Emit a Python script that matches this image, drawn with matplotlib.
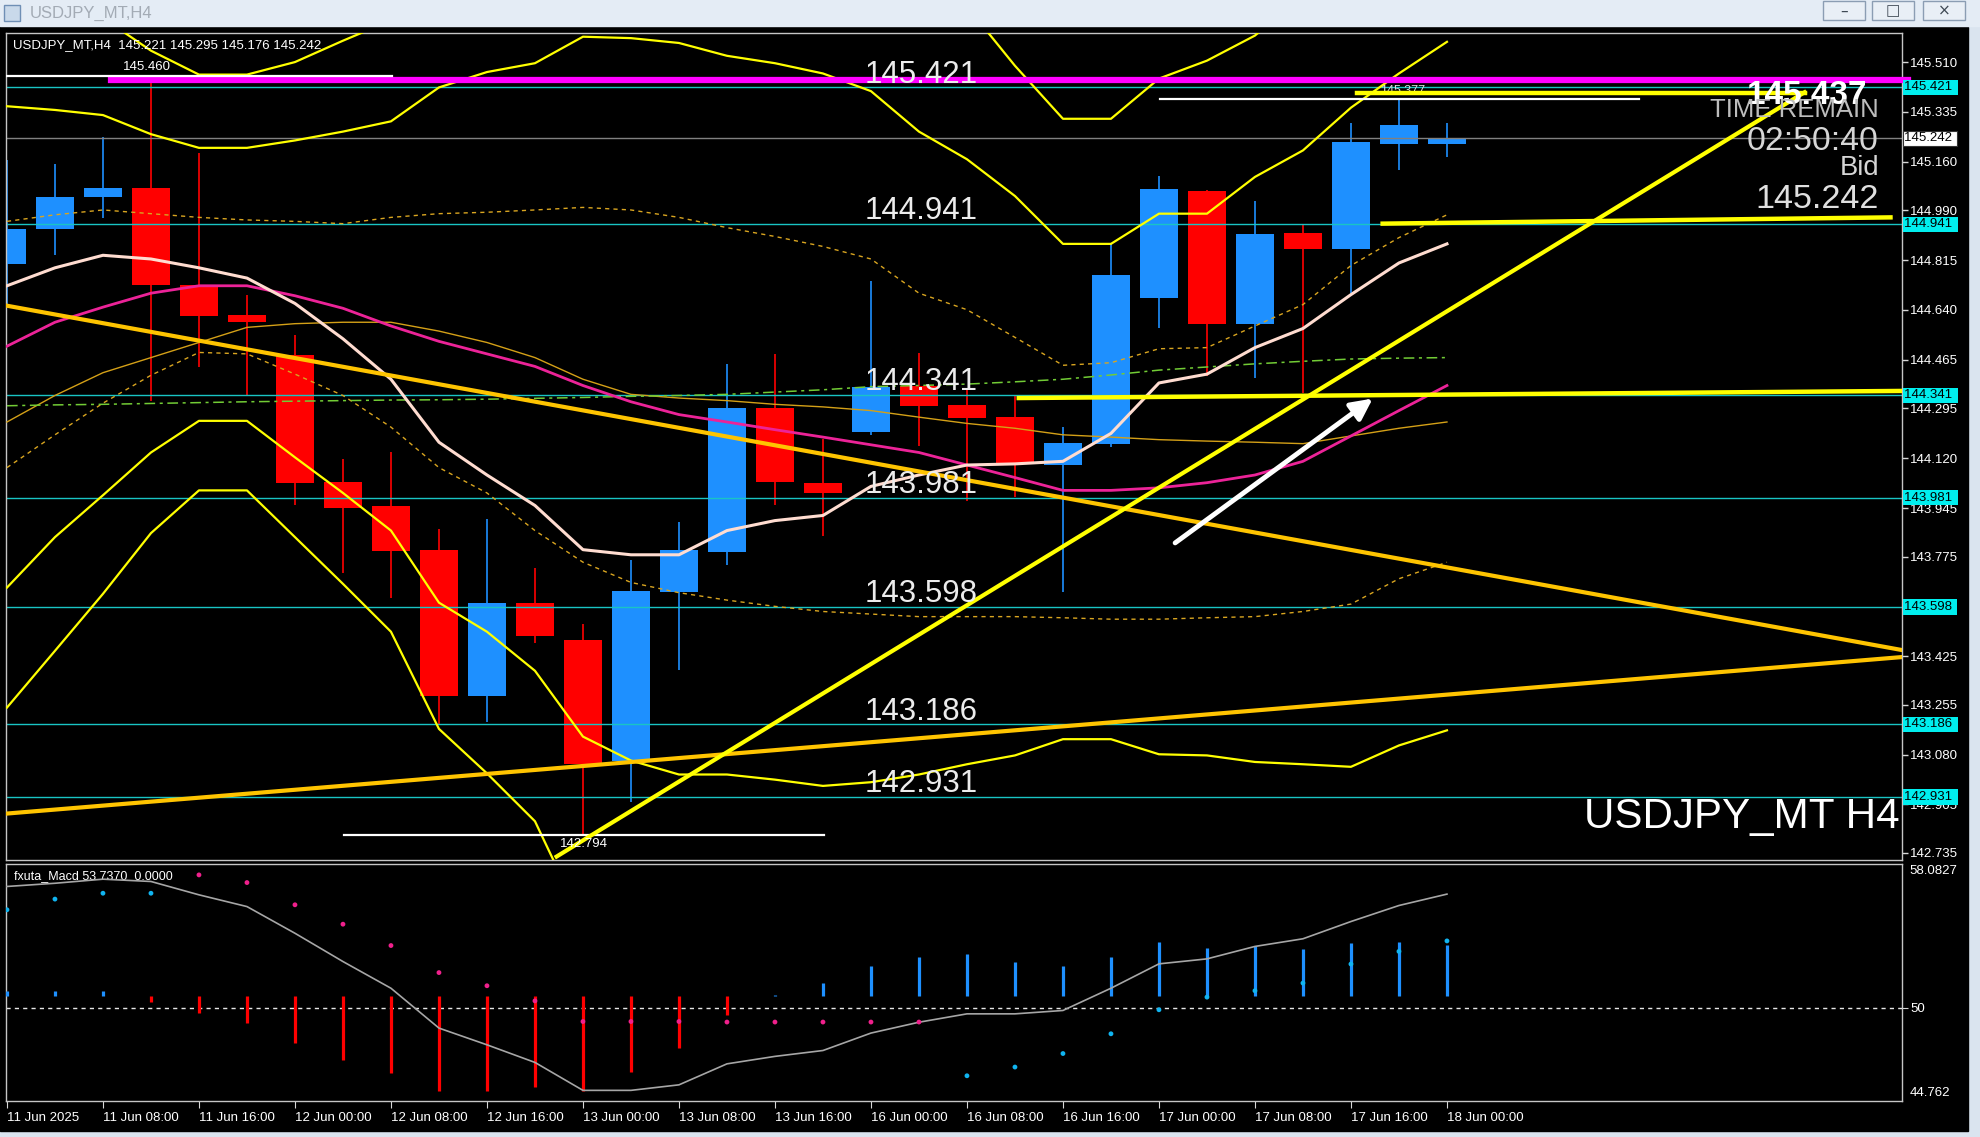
import matplotlib.pyplot as plt
import numpy as np
from matplotlib.patches import Rectangle
from matplotlib import font_manager

W, H = 1981, 1137

# velas H4 desde 11 Jun 00:00 hasta 18 Jun 00:00
apertura = [144.801, 144.925, 145.036, 145.069, 144.726, 144.622, 144.483, 144.035, 143.951, 143.798,
            143.285, 143.612, 143.481, 143.058, 143.650, 143.792, 144.297, 144.032, 144.211, 144.374,
            144.307, 144.265, 144.096, 144.171, 144.683, 145.057, 144.591, 144.911, 144.854, 145.224, 145.221]
maximo = [145.165, 145.152, 145.248, 145.440, 145.190, 144.693, 144.552, 144.117, 144.141, 143.873,
          143.906, 143.735, 143.537, 143.764, 143.896, 144.449, 144.485, 144.186, 144.743, 144.490,
          144.359, 144.341, 144.228, 144.873, 145.111, 145.060, 145.021, 144.938, 145.297, 145.377, 145.295]
minimo = [144.660, 144.834, 144.963, 144.320, 144.441, 144.337, 143.956, 143.716, 143.628, 143.185,
          143.194, 143.472, 142.794, 142.914, 143.375, 143.744, 143.954, 143.848, 144.201, 144.161,
          143.971, 143.983, 143.651, 144.159, 144.576, 144.410, 144.403, 144.347, 144.698, 145.130, 145.176]
cierre = [144.925, 145.038, 145.069, 144.726, 144.618, 144.597, 144.034, 143.944, 143.793, 143.285,
          143.611, 143.497, 143.046, 143.654, 143.798, 144.297, 144.035, 143.998, 144.371, 144.303,
          144.262, 144.103, 144.175, 144.764, 145.065, 144.591, 144.907, 144.854, 145.228, 145.290, 145.242]

# bandas de bollinger y medias
bb_sup3 = [145.776, 145.714, 145.665, 145.550, 145.466, 145.466, 145.510, 145.585, 145.656, 145.867,
           145.969, 146.038, 146.210, 146.233, 146.228, 146.175, 146.148, 146.108, 146.029, 145.829,
           145.705, 145.497, 145.311, 145.311, 145.452, 145.515, 145.603, 145.745, 145.927, 146.062, 146.184]
bb_sup2 = [145.355, 145.342, 145.324, 145.257, 145.209, 145.209, 145.235, 145.266, 145.302, 145.421,
           145.475, 145.506, 145.599, 145.594, 145.577, 145.532, 145.506, 145.470, 145.408, 145.266,
           145.169, 145.040, 144.872, 144.872, 144.978, 144.978, 145.107, 145.200, 145.350, 145.470, 145.581]
bb_sup1 = [144.951, 144.974, 144.991, 144.978, 144.965, 144.956, 144.951, 144.943, 144.965, 144.978,
           144.983, 144.991, 145.000, 144.991, 144.965, 144.929, 144.898, 144.863, 144.819, 144.699,
           144.641, 144.544, 144.446, 144.455, 144.504, 144.508, 144.584, 144.659, 144.796, 144.894, 144.974]
bb_media = [144.513, 144.597, 144.650, 144.699, 144.725, 144.725, 144.690, 144.646, 144.584, 144.530,
            144.486, 144.442, 144.375, 144.318, 144.273, 144.247, 144.220, 144.194, 144.167, 144.140,
            144.096, 144.052, 144.007, 144.007, 144.016, 144.034, 144.061, 144.109, 144.198, 144.287, 144.375]
bb_inf1 = [144.087, 144.202, 144.313, 144.411, 144.491, 144.486, 144.415, 144.340, 144.229, 144.087,
           143.998, 143.866, 143.755, 143.684, 143.648, 143.622, 143.600, 143.582, 143.573, 143.564,
           143.564, 143.564, 143.560, 143.555, 143.555, 143.560, 143.564, 143.582, 143.608, 143.697, 143.755]
bb_inf2 = [143.666, 143.843, 143.990, 144.140, 144.251, 144.251, 144.123, 143.998, 143.866, 143.613,
           143.511, 143.374, 143.143, 143.059, 143.010, 143.010, 142.992, 142.970, 142.983, 143.010,
           143.046, 143.077, 143.134, 143.134, 143.081, 143.077, 143.054, 143.046, 143.037, 143.112, 143.165]
bb_inf3 = [143.245, 143.444, 143.644, 143.857, 144.007, 144.007, 143.843, 143.679, 143.511, 143.170,
           143.014, 142.846, 142.491, 142.403, 142.319, 142.319, 142.292, 142.279, 142.305, 142.452,
           142.487, 142.571, 142.680, 142.680, 142.571, 142.616, 142.491, 142.474, 142.470, 142.510, 142.567]
media_rapida = [144.725, 144.788, 144.832, 144.819, 144.788, 144.752, 144.663, 144.539, 144.397, 144.176,
                144.061, 143.954, 143.799, 143.781, 143.781, 143.866, 143.901, 143.919, 144.021, 144.061,
                144.096, 144.100, 144.109, 144.207, 144.384, 144.415, 144.508, 144.575, 144.694, 144.805, 144.872]
media_lenta = [144.247, 144.340, 144.420, 144.473, 144.526, 144.579, 144.592, 144.597, 144.597, 144.566,
               144.526, 144.473, 144.397, 144.344, 144.331, 144.322, 144.309, 144.300, 144.287, 144.264,
               144.242, 144.225, 144.202, 144.194, 144.185, 144.180, 144.176, 144.171, 144.198, 144.225, 144.247]
media_verde = [144.304, 144.307, 144.309, 144.312, 144.315, 144.318, 144.320, 144.322, 144.324, 144.325,
               144.327, 144.330, 144.333, 144.337, 144.340, 144.344, 144.352, 144.360, 144.371, 144.375,
               144.380, 144.388, 144.397, 144.412, 144.429, 144.440, 144.451, 144.460, 144.468, 144.471, 144.473]

# niveles horizontales
niveles = [145.421, 144.941, 144.341, 143.981, 143.598, 143.186, 142.931]
bid = 145.242
ticks_precio = [145.510, 145.335, 145.160, 144.990, 144.815, 144.640, 144.465, 144.295, 144.120,
                143.945, 143.775, 143.425, 143.255, 143.080, 142.905, 142.735]

# objetos dibujados (indice de barra, precio)
linea_baja_x, linea_baja_y = [0, 39.47], [144.655, 143.447]
linea_alza_x, linea_alza_y = [0, 39.47], [142.873, 143.422]
soporte_x, soporte_y = [11.45, 37.45], [142.722, 145.404]
techo_x, techo_y = [28.13, 37.45], [145.401, 145.401]
res1_x, res1_y = [28.66, 39.24], [144.943, 144.965]
res2_x, res2_y = [21.08, 39.47], [144.331, 144.356]
magenta_x, magenta_y = [2.16, 39.6], [145.447, 145.447]
flecha_ini, flecha_fin = (24.29, 143.817), (28.5, 144.335)
max_ant_x, max_ant_y = [0, 8.03], 145.460
max_rec_x, max_rec_y = [24.03, 34.0], 145.380
min_x, min_y = [7.03, 17.03], 142.796

# oscilador
histograma = [50.97, 50.97, 50.97, 50.35, 49.72, 49.17, 48.03, 47.08, 46.35, 45.30, 45.30, 45.56, 45.30,
              46.42, 47.75, 49.60, 50.73, 51.42, 52.36, 52.85, 53.03, 52.60, 52.36, 52.85, 53.71, 53.35,
              53.45, 53.30, 53.63, 53.71, 53.54]
puntos = [55.51, 56.11, 56.44, 56.44, 57.47, 57.04, 55.79, 54.70, 53.50, 51.98, 51.24, 50.39, 49.23, 49.23,
          49.23, 49.20, 49.20, 49.20, 49.20, 49.20, 46.18, 46.67, 47.43, 48.54, 49.89, 50.60, 50.96, 51.39,
          52.46, 53.17, 53.76]
puntos_alza = [1, 1, 1, 1, 0, 0, 0, 0, 0, 0, 0, 0, 0, 0, 0, 0, 0, 0, 0, 0, 1, 1, 1, 1, 1, 1, 1, 1, 1, 1, 1]
senal = [56.82, 57.00, 57.23, 57.10, 56.35, 55.69, 54.19, 52.60, 51.10, 48.86, 47.92, 46.93, 45.36, 45.36,
         45.67, 46.85, 47.27, 47.60, 48.58, 49.19, 49.66, 49.66, 49.85, 51.10, 52.47, 52.75, 53.45, 53.88,
         54.85, 55.75, 56.39]
base_hist = 50.67

fechas = ['11 Jun 2025', '11 Jun 08:00', '11 Jun 16:00', '12 Jun 00:00', '12 Jun 08:00', '12 Jun 16:00',
          '13 Jun 00:00', '13 Jun 08:00', '13 Jun 16:00', '16 Jun 00:00', '16 Jun 08:00', '16 Jun 16:00',
          '17 Jun 00:00', '17 Jun 08:00', '17 Jun 16:00', '18 Jun 00:00']

nombres = {f.name for f in font_manager.fontManager.ttflist}
estrecha = 'Liberation Sans Narrow' in nombres
f_narrow = 'Liberation Sans Narrow' if estrecha else 'Liberation Sans'
k = 1.0 if estrecha else 0.82
plt.rcParams['font.family'] = ['Liberation Sans', 'DejaVu Sans']

x = np.arange(len(cierre))
o = np.array(apertura)
c = np.array(cierre)
azul, rojo = '#1E90FF', '#FF0000'

fig = plt.figure(figsize=(W / 100, H / 100), dpi=100, facecolor='#dae4ef')
fig.patches.append(Rectangle((0, 1 - 1131 / H), 1968 / W, (1131 - 27) / H, transform=fig.transFigure,
                             color='black', zorder=-1))
# barra de titulo
fig.patches.append(Rectangle((0, 1 - 26 / H), 1, 26 / H, transform=fig.transFigure, color='#e4ecf5', zorder=-1))
fig.patches.append(Rectangle((4 / W, 1 - 21 / H), 16 / W, 16 / H, transform=fig.transFigure,
                             fc='#c9d9ea', ec='#6f8fb5', lw=1, zorder=1))
fig.text(30 / W, 1 - 13 / H, 'USDJPY_MT,H4', color='#a3abb5', fontsize=12, va='center')
for bx, simbolo in zip([1823, 1872, 1923], ['\u2013', '\u25a1', '\u00d7']):
    fig.patches.append(Rectangle((bx / W, 1 - 20 / H), 42 / W, 19 / H, transform=fig.transFigure,
                                 fc='#e9eff6', ec='#8b9db3', lw=1, zorder=1))
    fig.text((bx + 21) / W, 1 - 11 / H, simbolo, color='#404a55', fontsize=11, ha='center', va='center',
             family='DejaVu Sans')

ax = fig.add_axes([6 / W, 1 - 860 / H, 1896 / W, 827 / H], facecolor='black')
ax2 = fig.add_axes([6 / W, 1 - 1101 / H, 1896 / W, 237 / H], facecolor='black')
ax.set_xlim(-0.02, 39.48)
ax.set_ylim(142.710, 145.612)
ax2.set_xlim(-0.02, 39.48)
ax2.set_ylim(44.762, 58.0827)

# velas
colores = [azul if cc >= oo else rojo for oo, cc in zip(o, c)]
ax.vlines(x, minimo, maximo, colors=colores, lw=1.2, zorder=1)
ax.bar(x, np.maximum(np.abs(c - o), 0.006), bottom=np.minimum(o, c), width=0.78, color=colores, lw=0, zorder=1.5)

for n in niveles:
    ax.axhline(n, color='#19c4c4', lw=1, zorder=2)
ax.axhline(bid, color='#808080', lw=1, zorder=2)

ax.plot(x, bb_sup3, color='#FFFF00', lw=1.6, zorder=3)
ax.plot(x, bb_sup2, color='#FFFF00', lw=1.6, zorder=3)
ax.plot(x, bb_inf2, color='#FFFF00', lw=1.6, zorder=3)
ax.plot(x, bb_inf3, color='#FFFF00', lw=1.6, zorder=3)
ax.plot(x, bb_sup1, color='#D9A520', lw=1, ls=(0, (3, 3)), zorder=3)
ax.plot(x, bb_inf1, color='#D9A520', lw=1, ls=(0, (3, 3)), zorder=3)
ax.plot(x, media_lenta, color='#D4A017', lw=1, zorder=3)
ax.plot(x, media_verde, color='#72cc35', lw=1.1, ls=(0, (7, 3, 2, 3)), zorder=3)
ax.plot(x, bb_media, color='#EC2398', lw=2, zorder=3)
ax.plot(x, media_rapida, color='#FFDCD0', lw=2.2, zorder=3)

# lineas de tendencia y objetos
ax.plot(linea_baja_x, linea_baja_y, color='#FFC400', lw=3, zorder=4)
ax.plot(linea_alza_x, linea_alza_y, color='#FFC400', lw=3, zorder=4)
ax.plot(magenta_x, magenta_y, color='#FF00FF', lw=4.5, zorder=4, clip_on=False)
ax.plot(max_ant_x, [max_ant_y] * 2, color='white', lw=1.6, zorder=4)
ax.plot(max_rec_x, [max_rec_y] * 2, color='white', lw=1.6, zorder=4)
ax.plot(min_x, [min_y] * 2, color='white', lw=1.6, zorder=4)
ax.plot(soporte_x, soporte_y, color='#FFFF00', lw=3, zorder=4)
ax.plot(techo_x, techo_y, color='#FFFF00', lw=3.2, zorder=4)
ax.plot(res1_x, res1_y, color='#FFFF00', lw=3.2, zorder=4)
ax.plot(res2_x, res2_y, color='#FFFF00', lw=3.2, zorder=4)
ax.annotate('', xy=flecha_fin, xytext=flecha_ini,
            arrowprops=dict(arrowstyle='-|>', color='white', lw=3.5, mutation_scale=32), zorder=5)

for n in niveles:
    ax.text(17.87, n + 0.017, f'{n:.3f}', color='#ececec', fontsize=22.5, va='baseline', ha='left', zorder=6)
ax.text(2.42, max_ant_y + 0.012, '145.460', color='white', fontsize=9.5, va='bottom', zorder=6)
ax.text(28.6, max_rec_y + 0.008, '145.377', color='#dddddd', fontsize=9, va='bottom', zorder=3.5)
ax.text(12.03, min_y - 0.01, '142.794', color='white', fontsize=9.5, va='top', ha='center', zorder=6)

# eje de precios
ax.yaxis.tick_right()
ax.set_yticks(ticks_precio)
ax.set_yticklabels([f'{t:.3f}' for t in ticks_precio])
ax.tick_params(axis='y', colors='#d8d8d8', labelcolor='white', labelsize=9.5, length=4, width=1, pad=2)
ax.tick_params(axis='x', bottom=False, labelbottom=False)
for n in niveles:
    ax.text(1.0012, n, f'{n:.3f} ', transform=ax.get_yaxis_transform(), color='black', fontsize=9.5,
            va='center', ha='left', clip_on=False, zorder=10,
            bbox=dict(boxstyle='square,pad=0.12', fc='#00EEEE', ec='none'))
ax.text(1.0012, bid, f'{bid:.3f} ', transform=ax.get_yaxis_transform(), color='black', fontsize=9.5,
        va='center', ha='left', clip_on=False, zorder=10,
        bbox=dict(boxstyle='square,pad=0.12', fc='white', ec='#333333', lw=0.8))

for a in (ax, ax2):
    for s in a.spines.values():
        s.set_color('#c6c6c6')
        s.set_linewidth(1)

# textos de la esquina superior
fig.text(13 / W, 1 - 45 / H, 'USDJPY_MT,H4  145.221 145.295 145.176 145.242', color='white', fontsize=9.5,
         va='center')
fig.text(1867 / W, 1 - 96 / H, '145.437', color='white', fontsize=24, fontweight='bold', ha='right', va='center')
fig.text(1879 / W, 1 - 110 / H, 'TIME REMAIN', color='#bdbdbd', fontsize=22.6 * k, ha='right', va='center',
         family=f_narrow)
fig.text(1879 / W, 1 - 141 / H, '02:50:40', color='#d6d6d6', fontsize=29.5 * k, ha='right', va='center',
         family=f_narrow)
fig.text(1879 / W, 1 - 168 / H, 'Bid', color='#d6d6d6', fontsize=24 * k, ha='right', va='center', family=f_narrow)
fig.text(1879 / W, 1 - 200 / H, '145.242', color='#e0e0e0', fontsize=30 * k, ha='right', va='center',
         family=f_narrow)
ax.text(0.9985, 0.028, 'USDJPY_MT H4', transform=ax.transAxes, color='white', fontsize=37 * k, ha='right',
        va='bottom', family=f_narrow, zorder=6)

# ventana del oscilador
col_hist = [azul if h >= base_hist else rojo for h in histograma]
ax2.vlines(x, base_hist, histograma, colors=col_hist, lw=2.3, zorder=3)
ax2.axhline(50, color='#e6e6e6', lw=1, ls=(0, (3, 3)), zorder=2)
ax2.plot(x, senal, color='#a6a6a6', lw=1.2, zorder=4)
col_puntos = ['#10B4F0' if p else '#F0208C' for p in puntos_alza]
ax2.scatter(x, puntos, c=col_puntos, s=12, lw=0, zorder=5)
ax2.text(0.004, 0.975, 'fxuta_Macd 53.7370  0.0000', transform=ax2.transAxes, color='white', fontsize=9,
         va='top', ha='left')
ax2.yaxis.tick_right()
ax2.set_yticks([50])
ax2.set_yticklabels(['50'])
ax2.tick_params(axis='y', colors='#d8d8d8', labelcolor='white', labelsize=9.5, length=4, pad=2)
ax2.text(1.004, 0.995, '58.0827', transform=ax2.transAxes, color='white', fontsize=9.5, va='top', ha='left')
ax2.text(1.004, 0.01, '44.762', transform=ax2.transAxes, color='white', fontsize=9.5, va='bottom', ha='left')

ax2.set_xticks(np.arange(0, 31, 2))
ax2.set_xticklabels(fechas)
ax2.tick_params(axis='x', colors='#d8d8d8', labelcolor='white', labelsize=9.5, length=5, pad=3)
for t in ax2.get_xticklabels():
    t.set_ha('left')

plt.savefig('out.png', dpi=100, facecolor=fig.get_facecolor())
